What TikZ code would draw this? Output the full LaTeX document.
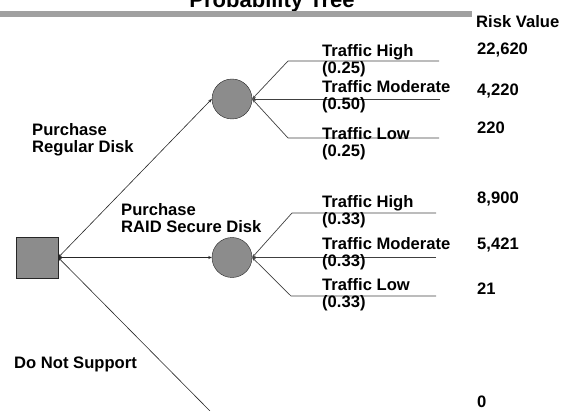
\documentclass[tikz,border=0pt]{standalone}
\usepackage{fontspec}
\setmainfont{Liberation Sans}
\usetikzlibrary{arrows.meta}

\definecolor{nodegray}{RGB}{140,140,140}
\definecolor{bargray}{RGB}{160,160,160}

\begin{document}
\begin{tikzpicture}[
    x=1pt, y=-1pt,
    >={Stealth[length=3.5pt, width=3pt]},
    decbox/.style={draw=black!85, rectangle, fill=nodegray, minimum width=42pt, minimum height=41pt, inner sep=0pt},
    chance/.style={draw=black!85, circle, fill=nodegray, minimum size=40pt, inner sep=0pt},
    lbl/.style={font=\fontsize{16.6}{17}\selectfont\bfseries, align=left, anchor=base west, inner sep=0pt},
    link/.style={line width=0.6pt, black!85},
    branch/.style={line width=0.7pt, black!75}
]
\useasboundingbox (0,0) rectangle (577,411);

% ==========================================
% Title strip (cut off at the top)
% ==========================================
\node[font=\fontsize{22}{24}\selectfont\bfseries, anchor=base, inner sep=0pt] (title) at (272,8) {Probability Tree};
\fill[bargray] (0,11) rectangle (472,17.5);
\node[lbl] (riskhead) at (476,28) {Risk Value};

% ==========================================
% Decision node and chance nodes
% ==========================================
\node[decbox] (sq) at (37,257.5) {};
\node[chance] (c1) at (232,99) {};
\node[chance] (c2) at (232,257.5) {};
\coordinate (dns) at (210,411);

\draw[link, <->] (c1.west) -- (sq.east);
\draw[link, <->] (c2.west) -- (sq.east);
\draw[link, ->] (dns) -- (sq.east);

% (base of a two-line label = its second line)
\node[lbl] (regular) at (32,153) {Purchase\\Regular Disk};
\node[lbl] (raid) at (121,233) {Purchase\\RAID Secure Disk};
\node[lbl] (nosupport) at (14,368) {Do Not Support};

% ==========================================
% Branches : regular disk
% ==========================================
\coordinate (r_hi) at (288,61);   \coordinate (r_hi_e) at (439,61);
\coordinate (r_mo_e) at (440,99);
\coordinate (r_lo) at (288,138);  \coordinate (r_lo_e) at (439,138);
\draw[branch, ->] (r_hi_e) -- (r_hi) -- (c1.east);
\draw[branch, ->] (r_mo_e) -- (c1.east);
\draw[branch, ->] (r_lo_e) -- (r_lo) -- (c1.east);

\node[lbl] (r_hi_t) at (322,74) {Traffic High\\(0.25)};
\node[lbl] (r_mo_t) at (322,109.5) {Traffic Moderate\\(0.50)};
\node[lbl] (r_lo_t) at (322,157) {Traffic Low\\(0.25)};

% ==========================================
% Branches : RAID secure disk
% ==========================================
\coordinate (s_hi) at (292,213);  \coordinate (s_hi_e) at (436,213);
\coordinate (s_mo_e) at (436,257.5);
\coordinate (s_lo) at (291,296);  \coordinate (s_lo_e) at (436,296);
\draw[branch, ->] (s_hi_e) -- (s_hi) -- (c2.east);
\draw[branch, ->] (s_mo_e) -- (c2.east);
\draw[branch, ->] (s_lo_e) -- (s_lo) -- (c2.east);

\node[lbl] (s_hi_t) at (322,224.5) {Traffic High\\(0.33)};
\node[lbl] (s_mo_t) at (322,266) {Traffic Moderate\\(0.33)};
\node[lbl] (s_lo_t) at (322,307) {Traffic Low\\(0.33)};

% ==========================================
% Risk values
% ==========================================
\node[lbl] (v1) at (477,55) {22,620};
\node[lbl] (v2) at (477,96) {4,220};
\node[lbl] (v3) at (477,134) {220};
\node[lbl] (v4) at (477,204) {8,900};
\node[lbl] (v5) at (477,249) {5,421};
\node[lbl] (v6) at (477,294) {21};
\node[lbl] (v7) at (477,407) {0};

\end{tikzpicture}
\end{document}
